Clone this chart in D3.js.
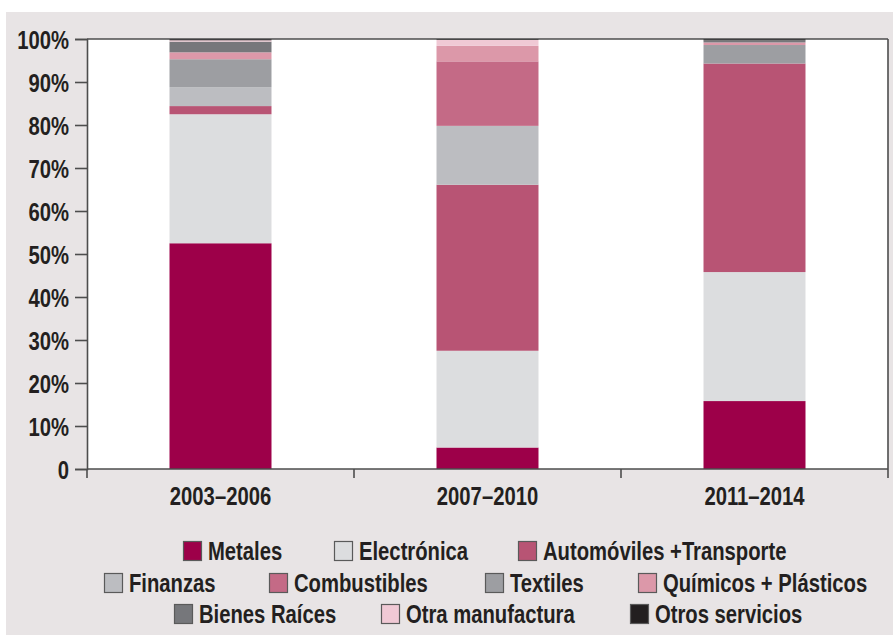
<!DOCTYPE html>
<html>
<head>
<meta charset="utf-8">
<script src="https://cdn.jsdelivr.net/npm/d3@7"></script>
<style>
    body { margin: 0; background: #ffffff; }
    text { font-family: "Liberation Sans", Arial, sans-serif; font-weight: bold; fill: #231f20; }
</style>
</head>
<body>
<div id="chart_area"></div>
<script>
// periods on the x axis
const periods = ["2003–2006", "2007–2010", "2011–2014"];

// sectors, bottom to top in each stack
const sectors = ["Metales", "Electrónica", "Automóviles +Transporte", "Finanzas", "Combustibles",
    "Textiles", "Químicos + Plásticos", "Bienes Raíces", "Otra manufactura", "Otros servicios"];

const sector_colors = ["#9d0049", "#dcdddf", "#b85474", "#bcbdc1", "#c46a86",
    "#9d9ea2", "#dc98a9", "#76777b", "#f0c9d5", "#231f20"];

// share of each sector per period (percent)
const metales = [52.5, 5.0, 15.8];
const electronica = [30.0, 22.5, 30.0];
const automoviles = [1.9, 38.6, 48.5];
const finanzas = [4.4, 13.7, 0];
const combustibles = [0, 15.0, 0];
const textiles = [6.5, 0, 4.3];
const quimicos = [1.6, 3.6, 0.6];
const bienes_raices = [2.5, 0, 0.5];
const otra_manufactura = [0.3, 1.4, 0];
const otros_servicios = [0.3, 0.2, 0.3];

const y_ticks = [0, 10, 20, 30, 40, 50, 60, 70, 80, 90, 100];

const series_values = [metales, electronica, automoviles, finanzas, combustibles,
    textiles, quimicos, bienes_raices, otra_manufactura, otros_servicios];

// build rows for d3.stack
let table = periods.map(function (p, i) {
    let row = {period: p};
    sectors.forEach(function (s, j) {
        row[s] = series_values[j][i];
    });
    return row;
});

const width = 893;
const height = 635;
const margin = {left: 87, right: 5, top: 39, bottom: 165};
const FONT_SIZE = 25;
const SQUEEZE = 0.81; // condensed look

let svg = d3.select("#chart_area")
    .append("svg")
    .attr("width", width)
    .attr("height", height);

// condensed text: group at position, glyphs squeezed horizontally
function add_text(parent, px, py, str, anchor) {
    return parent.append("g")
        .attr("transform", "translate(" + px + "," + py + ")")
        .append("text")
        .attr("transform", "scale(" + SQUEEZE + ",1)")
        .attr("text-anchor", anchor)
        .style("font-size", FONT_SIZE + "px")
        .text(str);
}

// grey panel behind everything
svg.append("rect")
    .attr("x", 6).attr("y", 12)
    .attr("width", width - 6).attr("height", height - 12)
    .attr("fill", "#e8e4e5");

let x = d3.scaleBand()
    .domain(periods)
    .range([margin.left, width - margin.right])
    .padding(0);

let y = d3.scaleLinear()
    .domain([0, 100])
    .range([height - margin.bottom - 1, margin.top]);

// white plot area
svg.append("rect")
    .attr("x", x.range()[0])
    .attr("y", y(100))
    .attr("width", x.range()[1] - x.range()[0])
    .attr("height", y(0) - y(100))
    .attr("fill", "#ffffff");

let stacked = d3.stack().keys(sectors)(table);
let bar_width = x.bandwidth() * 0.382;

svg.append("g")
    .selectAll("g")
    .data(stacked)
    .enter().append("g")
    .attr("fill", function (d, i) { return sector_colors[i]; })
    .selectAll("rect")
    .data(function (d) { return d; })
    .enter().append("rect")
    .attr("x", function (d) { return x(d.data.period) + (x.bandwidth() - bar_width) / 2; })
    .attr("y", function (d) { return y(d[1]); })
    .attr("width", bar_width)
    .attr("height", function (d) { return y(d[0]) - y(d[1]); });

// frame top and right
svg.append("line")
    .attr("x1", x.range()[0]).attr("x2", x.range()[1])
    .attr("y1", y(100)).attr("y2", y(100))
    .attr("stroke", "#4d4d4d").attr("stroke-width", 1.6);

svg.append("line")
    .attr("x1", x.range()[1]).attr("x2", x.range()[1])
    .attr("y1", y(100)).attr("y2", y(0))
    .attr("stroke", "#4d4d4d").attr("stroke-width", 1.6);

// y axis
let y_axis = svg.append("g")
    .attr("transform", "translate(" + x.range()[0] + ",0)")
    .call(d3.axisLeft(y)
        .tickValues(y_ticks)
        .tickSize(12)
        .tickPadding(6)
        .tickFormat(function (d) { return d === 0 ? "0" : d + "%"; }));

y_axis.selectAll("text")
    .attr("x", 0)
    .attr("dy", "0.36em")
    .attr("transform", "translate(-18,0) scale(" + SQUEEZE + ",1)")
    .attr("font-family", null)
    .attr("font-size", null)
    .style("font-size", FONT_SIZE + "px");

y_axis.select(".domain").attr("stroke", "#4d4d4d").attr("stroke-width", 1.6);
y_axis.selectAll(".tick line").attr("stroke", "#4d4d4d").attr("stroke-width", 1.6);

// x axis with ticks on the category boundaries
let x_axis = svg.append("g")
    .attr("transform", "translate(0," + y(0) + ")");

x_axis.append("line")
    .attr("x1", x.range()[0]).attr("x2", x.range()[1])
    .attr("stroke", "#4d4d4d").attr("stroke-width", 1.6);

let boundaries = periods.map(function (p) { return x(p); }).concat([x.range()[1]]);
x_axis.selectAll("line.tick")
    .data(boundaries)
    .enter().append("line")
    .attr("class", "tick")
    .attr("x1", function (d) { return d; })
    .attr("x2", function (d) { return d; })
    .attr("y1", 0).attr("y2", 9)
    .attr("stroke", "#4d4d4d").attr("stroke-width", 1.6);

periods.forEach(function (p) {
    add_text(x_axis, x(p) + x.bandwidth() / 2, 36, p, "middle");
});

// legend: three rows
const legend_rows = [
    {y: 551, items: [[0, 183], [1, 334], [2, 518]]},
    {y: 583, items: [[3, 104], [4, 269], [5, 485], [6, 638]]},
    {y: 614, items: [[7, 174], [8, 381], [9, 630]]}
];

let legend = svg.append("g");
legend_rows.forEach(function (row) {
    row.items.forEach(function (item) {
        let idx = item[0];
        let g = legend.append("g")
            .attr("transform", "translate(" + item[1] + "," + row.y + ")");
        g.append("rect")
            .attr("x", 0.5).attr("y", -9.5)
            .attr("width", 18).attr("height", 19)
            .attr("fill", sector_colors[idx])
            .attr("stroke", "#5a5a5a")
            .attr("stroke-width", 1.2);
        add_text(g, 25, 9, sectors[idx], "start");
    });
});
</script>
</body>
</html>
